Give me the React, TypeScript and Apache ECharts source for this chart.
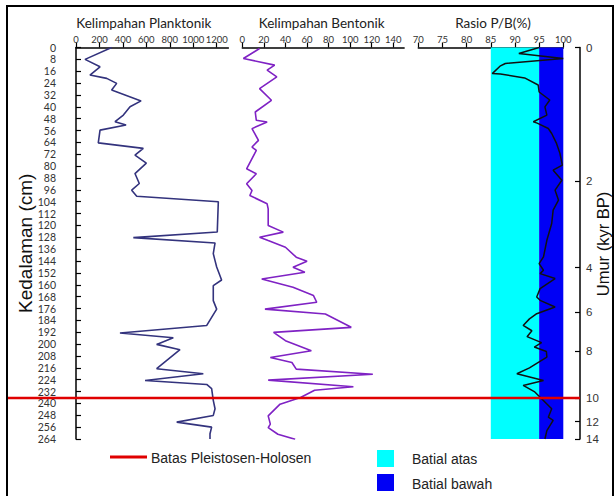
import React, { useEffect, useRef } from "react";
import * as echarts from "echarts";

// ---------- data ----------
const planktonDepth = [0, 8, 13, 18.6, 20.8, 24.2, 28.7, 36, 40, 45.6, 50, 52.3, 55.7, 64.3, 68, 72.6, 78, 85, 91.7, 96.2, 100.3, 104, 124.4, 128.2, 131.8, 139, 143.7, 148, 156.8, 160.6, 170.7, 176.4, 187.5, 192.5, 195.7, 200.2, 203.8, 216.6, 220, 224.5, 227.2, 230, 237.9, 243.6, 248.1, 252.6, 256, 260.5, 264];
const planktonCount = [304, 77, 205, 119, 262, 347, 304, 555, 461, 404, 333, 427, 205, 190, 574, 503, 600, 503, 540, 475, 518, 1214, 1205, 489, 1186, 1171, 1186, 1200, 1242, 1171, 1171, 1200, 1114, 375, 830, 688, 887, 688, 1086, 589, 1115, 1157, 1171, 1186, 1171, 859, 1157, 1143, 1143];

const benthicDepth = [0.7, 7.4, 11.9, 15.3, 19.8, 27.7, 35.6, 43.5, 49.1, 50.2, 54.7, 62.6, 67.1, 69.4, 81.8, 85.1, 91.9, 96.4, 99.8, 105.4, 108.8, 120, 124.5, 127.9, 130.2, 134.7, 141.4, 144.1, 148.2, 151.6, 156.1, 161.7, 167.3, 171.8, 176.4, 179.7, 188.7, 192.1, 197.7, 204.5, 209, 212.4, 216.9, 220.3, 224.3, 228.8, 231.1, 236, 240.5, 248.4, 254, 256.3, 260.8, 264.2];
const benthicCount = [16, 1, 30, 23, 32, 16, 27, 12, 13, 23, 9, 15, 9, 13, 4, 13, 4, 9, 7, 23, 24, 24, 38, 16, 24, 40, 50, 60, 47, 58, 18, 47, 66, 69, 21, 77, 101, 29, 40, 64, 26, 46, 50, 121, 24, 103, 67, 54, 35, 24, 26, 24, 33, 49];

const ratioDepth = [0, 4, 7.4, 10.8, 12.6, 17.6, 17.8, 20.5, 25.3, 30, 35.4, 40, 45.6, 50.1, 51, 54.6, 58, 64.7, 71.4, 79.3, 82.7, 89.5, 96.2, 102.9, 109.7, 118.7, 130, 141.2, 145.7, 150.2, 152.5, 155.8, 162.6, 168.2, 170.5, 175, 179.5, 183, 187.4, 191, 195, 199, 202, 205, 208.8, 213, 216, 220, 224.5, 227.9, 232, 235.8, 243.6, 249.3, 251.5, 258.3, 264];
const ratioPB = [95, 90.8, 100, 88, 86.9, 85.3, 87, 92, 94.8, 95, 97.2, 96.2, 96.6, 93.8, 94.6, 96.9, 97.6, 98.6, 99.3, 99.8, 97.9, 99.7, 98.3, 99, 97.9, 97.6, 96.6, 95.9, 95, 95.9, 95.2, 98.3, 95.2, 94.5, 95.2, 98.3, 94.5, 93, 91.7, 93.5, 92.5, 95.5, 94, 96.5, 96.6, 94.5, 93, 90.4, 95.9, 91.7, 94, 95.2, 97.6, 96.9, 97.9, 96.6, 96.2];

const planktonTicks = [0, 200, 400, 600, 800, 1000, 1200];
const benthicTicks = [0, 20, 40, 60, 80, 100, 120, 140];
const ratioTicks = [70, 75, 80, 85, 90, 95, 100];

const ageLabels = [0, 2, 4, 6, 8, 10, 12, 14];
const ageDepths = [0, 90, 148.4, 178.4, 204.7, 236.4, 252.2, 264];

const boundaryDepth = 236.4; // Pleistocene-Holocene boundary
const upperBathyal = [85, 95];
const lowerBathyal = [95, 100];

// ---------- styles ----------
const LATO = "Lato, 'Open Sans', sans-serif";
const ARIAL = "'Liberation Sans', Arial, sans-serif";
const TOP = 47.5;
const H = 391.5;

function topAxis(gridIndex: number, min: number, max: number, ticks: number[]) {
  return {
    gridIndex,
    type: "value",
    position: "top",
    min,
    max,
    axisLine: { show: true, lineStyle: { color: "#000", width: 1.5 } },
    axisTick: { show: true, inside: false, length: 5, customValues: ticks, lineStyle: { color: "#000", width: 1.2 } },
    axisLabel: {
      show: true,
      customValues: ticks,
      margin: 3,
      fontSize: 9.5,
      fontFamily: LATO,
      color: "#333",
      hideOverlap: false,
      formatter: (v: number) => String(v),
    },
    splitLine: { show: false },
  };
}

export default function App() {
  const ref = useRef<HTMLDivElement>(null);
  useEffect(() => {
    if (!ref.current) return;
    const chart = echarts.init(ref.current, null, { renderer: "svg" });
    const hiddenY = (gridIndex: number) => ({
      gridIndex,
      type: "value",
      inverse: true,
      min: 0,
      max: 264,
      show: false,
    });
    chart.setOption({
      animation: false,
      backgroundColor: "#fff",
      grid: [
        { left: 76, top: TOP, width: 152.4, height: H, outerBoundsMode: "none", containLabel: false },
        { left: 242.3, top: TOP, width: 161.8, height: H, outerBoundsMode: "none", containLabel: false },
        { left: 418.3, top: TOP, width: 145, height: H, outerBoundsMode: "none", containLabel: false },
      ],
      xAxis: [
        topAxis(0, 0, 1300, planktonTicks),
        topAxis(1, 0, 150, benthicTicks),
        topAxis(2, 70, 100, ratioTicks),
      ],
      yAxis: [
        {
          gridIndex: 0,
          type: "value",
          inverse: true,
          min: 0,
          max: 264,
          interval: 8,
          position: "left",
          offset: 9,
          axisLine: { show: true, lineStyle: { color: "#000", width: 1.5 } },
          axisTick: { show: true, inside: true, length: 5, lineStyle: { color: "#000", width: 1.2 } },
          axisLabel: { fontSize: 10.5, fontFamily: LATO, color: "#333", margin: 11, hideOverlap: false },
          splitLine: { show: false },
          name: "Kedalaman (cm)",
          nameLocation: "middle",
          nameRotate: 90,
          nameGap: 32,
          nameMoveOverlap: false,
          nameTextStyle: { fontSize: 19, fontFamily: ARIAL, color: "#111" },
        },
        hiddenY(1),
        hiddenY(2),
        {
          gridIndex: 2,
          type: "value",
          inverse: true,
          min: 0,
          max: 264,
          position: "right",
          offset: 16.7,
          axisLine: { show: true, lineStyle: { color: "#000", width: 1.5 } },
          axisTick: { show: true, inside: true, length: 5, customValues: ageDepths, lineStyle: { color: "#000", width: 1.2 } },
          axisLabel: {
            customValues: ageDepths,
            margin: 6,
            fontSize: 11.5,
            fontFamily: ARIAL,
            color: "#333",
            hideOverlap: false,
            formatter: (v: number) => {
              let best = 0;
              ageDepths.forEach((d, i) => {
                if (Math.abs(d - v) < Math.abs(ageDepths[best] - v)) best = i;
              });
              return String(ageLabels[best]);
            },
          },
          splitLine: { show: false },
        },
      ],
      series: [
        {
          type: "line",
          xAxisIndex: 0,
          yAxisIndex: 0,
          data: planktonDepth.map((d, i) => [planktonCount[i], d]),
          showSymbol: false,
          symbol: "none",
          lineStyle: { color: "#33337d", width: 1.6 },
          silent: true,
          z: 3,
        },
        {
          type: "line",
          xAxisIndex: 1,
          yAxisIndex: 1,
          data: benthicDepth.map((d, i) => [benthicCount[i], d]),
          showSymbol: false,
          symbol: "none",
          lineStyle: { color: "#7f22c4", width: 1.6 },
          silent: true,
          z: 3,
        },
        {
          type: "line",
          xAxisIndex: 2,
          yAxisIndex: 2,
          data: [],
          silent: true,
          z: 1,
          markArea: {
            silent: true,
            data: [
              [{ xAxis: upperBathyal[0], itemStyle: { color: "#00ffff", opacity: 1 } }, { xAxis: upperBathyal[1] }],
              [{ xAxis: lowerBathyal[0], itemStyle: { color: "#0000f5", opacity: 1 } }, { xAxis: lowerBathyal[1] }],
            ],
          },
        },
        {
          type: "line",
          xAxisIndex: 2,
          yAxisIndex: 2,
          data: ratioDepth.map((d, i) => [ratioPB[i], d]),
          showSymbol: false,
          symbol: "none",
          lineStyle: { color: "#111", width: 1.5 },
          silent: true,
          z: 3,
        },
      ],
    });

    const yBoundary = chart.convertToPixel({ yAxisIndex: 0 }, boundaryDepth) as number;
    chart.setOption({
      graphic: [
        {
          type: "rect",
          shape: { x: 7, y: 6, width: 606, height: 500 },
          style: { fill: "none", stroke: "#000", lineWidth: 2 },
          z: 100,
          silent: true,
        },
        {
          type: "line",
          shape: { x1: 8, y1: yBoundary, x2: 580, y2: yBoundary },
          style: { stroke: "#e00000", lineWidth: 2.5 },
          z: 100,
          silent: true,
        },
        {
          type: "text",
          x: 603,
          y: 244,
          rotation: Math.PI / 2,
          style: { text: "Umur (kyr BP)", font: `16.5px ${ARIAL}`, fill: "#111", textAlign: "center", textVerticalAlign: "middle" },
        },
        { type: "text", x: 143.8, y: 23, style: { text: "Kelimpahan Planktonik", font: `13.5px ${LATO}`, fill: "#222", textAlign: "center", textVerticalAlign: "middle" } },
        { type: "text", x: 321.7, y: 23, style: { text: "Kelimpahan Bentonik", font: `13.5px ${LATO}`, fill: "#222", textAlign: "center", textVerticalAlign: "middle" } },
        { type: "text", x: 493, y: 23, style: { text: "Rasio P/B(%)", font: `13.5px ${LATO}`, fill: "#222", textAlign: "center", textVerticalAlign: "middle" } },
        {
          type: "line",
          shape: { x1: 110, y1: 457, x2: 147, y2: 457 },
          style: { stroke: "#e00000", lineWidth: 3 },
          silent: true,
        },
        { type: "text", x: 151, y: 458, style: { text: "Batas Pleistosen-Holosen", font: `14px ${ARIAL}`, fill: "#222", textAlign: "left", textVerticalAlign: "middle" } },
        { type: "rect", shape: { x: 377, y: 450, width: 17, height: 17 }, style: { fill: "#00ffff" }, silent: true },
        { type: "rect", shape: { x: 377, y: 474, width: 17, height: 17 }, style: { fill: "#0000f5" }, silent: true },
        { type: "text", x: 412, y: 459, style: { text: "Batial atas", font: `14px ${ARIAL}`, fill: "#222", textAlign: "left", textVerticalAlign: "middle" } },
        { type: "text", x: 412, y: 484, style: { text: "Batial bawah", font: `14px ${ARIAL}`, fill: "#222", textAlign: "left", textVerticalAlign: "middle" } },
      ],
    });

    return () => chart.dispose();
  }, []);

  return (
    <div
      ref={ref}
      style={{ position: "fixed", left: 0, top: 0, width: 616, height: 496, background: "#fff" }}
    />
  );
}
